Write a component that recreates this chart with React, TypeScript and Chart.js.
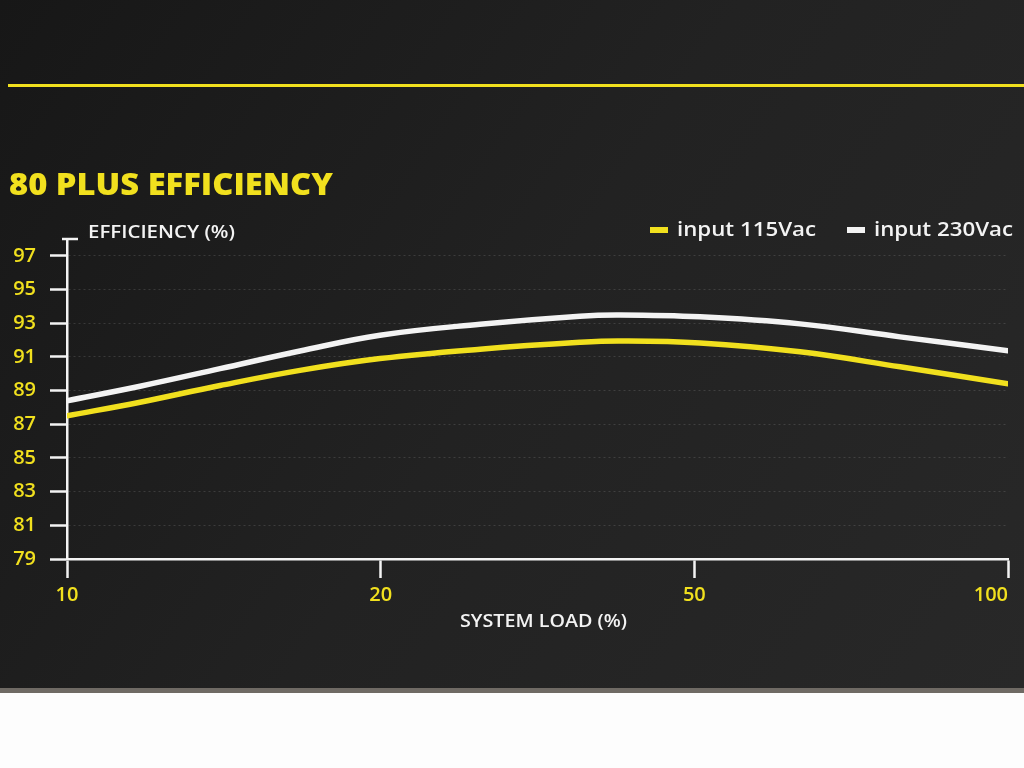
import React, { useEffect, useRef } from "react";
import { Chart, registerables } from "chart.js";

Chart.register(...registerables);

// ---- data ----
const loadLabels: string[] = ["10", "20", "50", "100"]; // system load (%) category ticks
const loadPositions: number[] = [0, 0.233, 0.488, 0.743, 0.998, 1.317, 1.635, 1.763, 2.018, 2.337, 2.656, 3];
const eff115: number[] = [87.5, 88.31, 89.3, 90.2, 90.9, 91.46, 91.87, 91.95, 91.83, 91.3, 90.41, 89.4];
const eff230: number[] = [88.4, 89.26, 90.3, 91.35, 92.29, 92.94, 93.42, 93.49, 93.38, 92.96, 92.19, 91.36];
const yTickValues: number[] = [79, 81, 83, 85, 87, 89, 91, 93, 95, 97];
const seriesLabels: string[] = ["input 115Vac", "input 230Vac"];
const chartTitle = "80 PLUS EFFICIENCY";
const yAxisTitle = "EFFICIENCY (%)";
const xAxisTitle = "SYSTEM LOAD (%)";

const YELLOW = "#f1e01e";
const WHITE = "#f3f3f3";
const FONT = "'Open Sans', 'DejaVu Sans', sans-serif";

// draw text stretched horizontally to a given width
function fitText(ctx: any, text: string, x: number, y: number, w: number) {
  const m = ctx.measureText(text).width;
  ctx.save();
  ctx.translate(x, y);
  ctx.scale(w / m, 1);
  ctx.fillText(text, 0, 0);
  ctx.restore();
}

const decorPlugin = {
  id: "decor",
  beforeDraw(chart: any) {
    const { ctx, width, height } = chart;
    ctx.save();
    const g = ctx.createLinearGradient(0, 0, width, 688);
    g.addColorStop(0, "#171717");
    g.addColorStop(0.5, "#222222");
    g.addColorStop(1, "#282828");
    ctx.fillStyle = g;
    ctx.fillRect(0, 0, width, 688);
    ctx.fillStyle = "#6f6a64";
    ctx.fillRect(0, 688, width, 5);
    ctx.fillStyle = "#fdfdfd";
    ctx.fillRect(0, 693, width, height - 693);
    ctx.fillStyle = YELLOW;
    ctx.fillRect(8, 84, width - 8, 3);
    ctx.restore();
  },
  afterDraw(chart: any) {
    const { ctx, chartArea } = chart;
    ctx.save();
    // serif at top of y axis
    ctx.strokeStyle = WHITE;
    ctx.lineWidth = 2.5;
    ctx.beginPath();
    ctx.moveTo(chartArea.left - 5, chartArea.top);
    ctx.lineTo(chartArea.left + 11, chartArea.top);
    ctx.stroke();
    ctx.textBaseline = "alphabetic";
    ctx.textAlign = "left";
    // title
    ctx.fillStyle = YELLOW;
    ctx.font = `800 30px ${FONT}`;
    fitText(ctx, chartTitle, 9, 195, 324);
    // y axis title
    ctx.fillStyle = WHITE;
    ctx.font = `600 18px ${FONT}`;
    fitText(ctx, yAxisTitle, 88, 238, 147);
    // x axis title
    fitText(ctx, xAxisTitle, 460, 627, 167);
    // legend
    ctx.font = `600 20px ${FONT}`;
    const colors = [YELLOW, WHITE];
    const xs = [650, 847];
    chart.data.datasets.forEach((ds: any, i: number) => {
      ctx.fillStyle = colors[i];
      ctx.fillRect(xs[i], 227, 18, 6);
      ctx.fillStyle = WHITE;
      fitText(ctx, ds.label, xs[i] + 27, 236, 139);
    });
    ctx.restore();
  },
};

export default function App() {
  const ref = useRef<HTMLCanvasElement | null>(null);
  useEffect(() => {
    if (!ref.current) return;
    const mk = (ys: number[]) => loadPositions.map((x, i) => ({ x, y: ys[i] }));
    const chart = new Chart(ref.current, {
      type: "line",
      data: {
        datasets: [
          {
            label: seriesLabels[0],
            data: mk(eff115),
            borderColor: YELLOW,
            borderWidth: 5.5,
            pointRadius: 0,
            tension: 0.4,
            borderCapStyle: "round",
          },
          {
            label: seriesLabels[1],
            data: mk(eff230),
            borderColor: WHITE,
            borderWidth: 5.5,
            pointRadius: 0,
            tension: 0.4,
            borderCapStyle: "round",
          },
        ],
      },
      options: {
        responsive: false,
        animation: false,
        devicePixelRatio: 1,
        layout: { padding: { top: 239, left: 0, right: 16, bottom: 138 } },
        plugins: { legend: { display: false }, tooltip: { enabled: false } },
        scales: {
          x: {
            type: "linear",
            min: 0,
            max: 3,
            afterBuildTicks: (s: any) => {
              s.ticks = loadLabels.map((_, i) => ({ value: i }));
            },
            afterFit: (s: any) => {
              s.height = 71;
              s.paddingRight = 0;
              s.paddingLeft = 0;
            },
            ticks: {
              color: YELLOW,
              font: { family: FONT, size: 20, weight: "600" },
              padding: 5,
              maxRotation: 0,
              // the last label sits inside the right edge, as in the print
              callback: (v: any) => {
                const i = v as number;
                const t = loadLabels[i] ?? "";
                return i === loadLabels.length - 1 ? t + "\u2007\u2007\u2007" : t;
              },
            },
            grid: {
              drawOnChartArea: false,
              tickLength: 19,
              tickColor: WHITE,
              tickWidth: 2.5,
            },
            border: { display: true, color: WHITE, width: 2.5 },
          },
          y: {
            type: "linear",
            min: 79,
            max: 98,
            afterBuildTicks: (s: any) => {
              s.ticks = yTickValues.map((v) => ({ value: v }));
            },
            afterFit: (s: any) => {
              s.width = 67;
            },
            ticks: {
              color: YELLOW,
              font: { family: FONT, size: 20, weight: "600" },
              padding: 14,
            },
            grid: {
              color: "rgba(255,255,255,0.13)",
              lineWidth: 1,
              tickLength: 17,
              tickColor: WHITE,
              tickWidth: 2.5,
            },
            border: { display: true, color: WHITE, width: 2.5, dash: [2, 3] },
          },
        },
      },
      plugins: [decorPlugin],
    });
    return () => chart.destroy();
  }, []);
  return (
    <div style={{ position: "absolute", left: 0, top: 0, width: 1024, height: 768 }}>
      <canvas ref={ref} width={1024} height={768} style={{ width: 1024, height: 768, display: "block" }} />
    </div>
  );
}
